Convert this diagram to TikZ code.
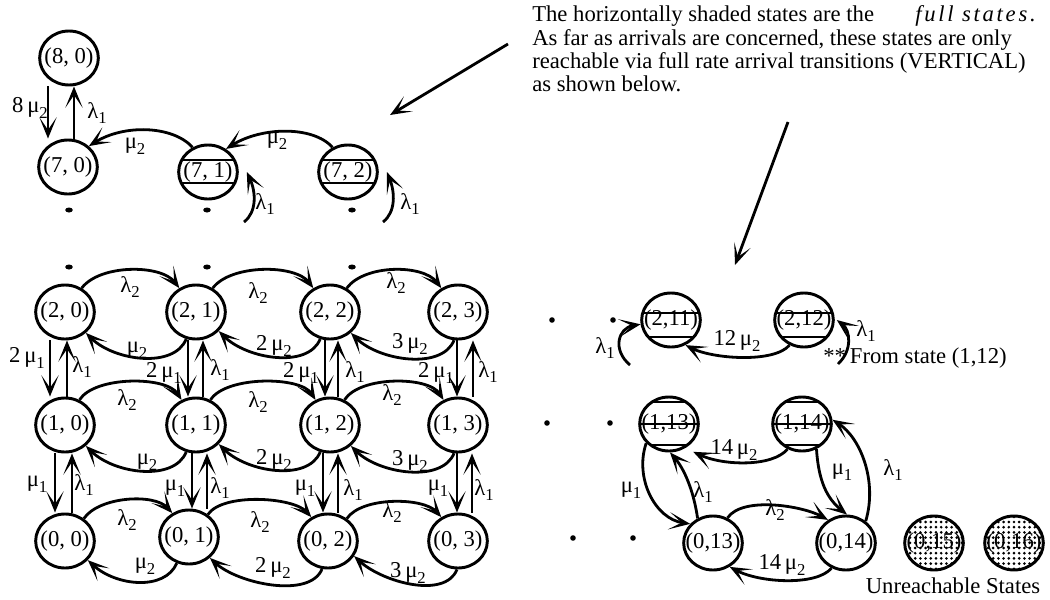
\documentclass[tikz,border=0pt]{standalone}
\usepackage{fontspec}
\setmainfont{Liberation Serif}
\newfontfamily\spacedserif[LetterSpace=12]{Liberation Serif}
\usetikzlibrary{shapes.geometric,arrows.meta,patterns.meta}

% rate symbols with a lowered index
\newcommand\lowsub[2]{#1\raisebox{-0.55ex}{\fontsize{12.5}{12.5}\selectfont #2}}
\newcommand\lamb[1]{\lowsub{λ}{#1}}
\newcommand\muu[1]{\lowsub{μ}{#1}}
% state label that does not widen the ellipse
\newcommand\stlabel[1]{\makebox[0pt]{#1}}
\newcommand\lowlabel[1]{\makebox[0pt]{\raisebox{-2.5pt}{#1}}}

\tikzset{
  state/.style={ellipse, draw, line width=2.2pt, minimum width=44pt,
    minimum height=40.5pt, inner sep=0pt},
  full/.style={path picture={\foreach \d in {#1}
    \draw[line width=2.2pt] ([yshift=\d pt]path picture bounding box.west)
      -- ([yshift=\d pt]path picture bounding box.east);}},
  unreach/.style={state, pattern={Dots[radius=1.1pt,distance=3.9pt]}},
  arr/.style={line width=2.1pt, -{Stealth[length=16pt,width=13pt,inset=9.5pt]}},
  lab/.style={inner sep=0pt},
  txt/.style={inner sep=0pt, anchor=base west},
}

\begin{document}
\begin{tikzpicture}[x=0.75pt, y=-0.75pt, font=\fontsize{17}{20}\selectfont]
\useasboundingbox (0,0) rectangle (1050,600);

% ---------- upper chain ----------
\node[state] (n80) at (69,58) {\stlabel{(8, 0)}};
\node[state] (n70) at (68,167) {\stlabel{(7, 0)}};
\node[state, full={9,-8.25}] (n71) at (208,172) {\stlabel{(7, 1)}};
\node[state, full={9,-8.25}] (n72) at (348,172) {\stlabel{(7, 2)}};

\draw[arr] ([xshift=-15.75pt]n80.south) -- ([xshift=-15.75pt]n80.south |- n70.north);
\draw[arr] ([xshift=4.5pt]n70.north) -- ([xshift=4.5pt]n70.north |- n80.south);
\draw[arr] (n71.122) .. controls +(-20,-22) and +(35,-22) .. (n70.45);
\draw[arr] (n72.122) .. controls +(-20,-22) and +(35,-22) .. (n71.52);
\coordinate (h71) at (244,222);
\coordinate (h72) at (383,222);
\draw[arr] (h71) .. controls (257,212) and (256,192) .. ([xshift=6pt]n71.east);
\draw[arr] (h72) .. controls (396,212) and (395,192) .. ([xshift=6pt]n72.east);

\node[lab] (la1) at (30,108) {8\,\muu{2}};
\node[lab] (la2) at (97,113) {\lamb{1}};
\node[lab] (la3) at (135,146) {\muu{2}};
\node[lab] (la4) at (277,141) {\muu{2}};
\node[lab] (la5) at (265,204) {\lamb{1}};
\node[lab] (la6) at (410,204) {\lamb{1}};

% vertical ellipsis dots
\foreach \x in {69,207,352} {
  \fill (\x,210) ellipse [x radius=3.8, y radius=2.5];
  \fill (\x,267) ellipse [x radius=3.8, y radius=2.5];
}

% ---------- lower grid ----------
\node[state] (n20) at (65,312) {\stlabel{(2, 0)}};
\node[state] (n21) at (196,312) {\stlabel{(2, 1)}};
\node[state] (n22) at (330,312) {\stlabel{(2, 2)}};
\node[state] (n23) at (458,312) {\stlabel{(2, 3)}};
\node[state] (n10) at (65,425) {\stlabel{(1, 0)}};
\node[state] (n11) at (196,425) {\stlabel{(1, 1)}};
\node[state] (n12) at (330,425) {\stlabel{(1, 2)}};
\node[state] (n13) at (458,425) {\stlabel{(1, 3)}};
\node[state] (n00) at (65,541) {\stlabel{(0, 0)}};
\node[state] (n01) at (189,537) {\stlabel{(0, 1)}};
\node[state] (n02) at (328,541) {\stlabel{(0, 2)}};
\node[state] (n03) at (458,541) {\stlabel{(0, 3)}};

% arrivals of class 2 (to the right, above)
\draw[arr] (n20.55) .. controls +(18,-24) and +(-18,-24) .. (n21.125);
\draw[arr] (n21.55) .. controls +(18,-24) and +(-18,-24) .. (n22.125);
\draw[arr] (n22.55) .. controls +(18,-24) and +(-18,-24) .. (n23.125);
\draw[arr] (n10.60) .. controls +(15,-24) and +(-15,-24) .. (n11.120);
\draw[arr] (n11.60) .. controls +(15,-24) and +(-15,-24) .. (n12.120);
\draw[arr] (n12.60) .. controls +(15,-24) and +(-15,-24) .. (n13.120);
\draw[arr] (n00.50) .. controls +(15,-22) and +(-18,-20) .. (n01.125);
\draw[arr] (n01.50) .. controls +(15,-22) and +(-18,-20) .. (n02.125);
\draw[arr] (n02.50) .. controls +(15,-22) and +(-18,-20) .. (n03.125);

% departures of class 2 (to the left, below)
\draw[arr] (n21.250) .. controls +(-12,30) and +(28,28) .. (n20.315);
\draw[arr] (n22.250) .. controls +(-12,30) and +(28,28) .. (n21.320);
\draw[arr] (n23.262) .. controls +(-12,30) and +(28,28) .. (n22.315);
\draw[arr] (n11.250) .. controls +(-12,30) and +(28,28) .. (n10.315);
\draw[arr] (n12.250) .. controls +(-12,30) and +(28,28) .. (n11.320);
\draw[arr] (n13.262) .. controls +(-12,30) and +(28,28) .. (n12.315);
\draw[arr] (n01.245) .. controls +(-12,28) and +(28,26) .. (n00.320);
\draw[arr] (n02.258) .. controls +(-12,30) and +(28,26) .. (n01.315);
\draw[arr] (n03.268) .. controls +(-12,30) and +(28,26) .. (n02.330);

% class 1 transitions between rows
\draw[arr] ([xshift=-11.25pt]n20.south) -- ([xshift=-11.25pt]n20.south |- n10.north);
\draw[arr] ([xshift=1.5pt]n10.north) -- ([xshift=1.5pt]n10.north |- n20.south);
\draw[arr] ([xshift=-6pt]n21.south) -- ([xshift=-6pt]n21.south |- n11.north);
\draw[arr] ([xshift=5.25pt]n11.north) -- ([xshift=5.25pt]n11.north |- n21.south);
\draw[arr] ([xshift=-3.75pt]n22.south) -- ([xshift=-3.75pt]n22.south |- n12.north);
\draw[arr] ([xshift=6pt]n12.north) -- ([xshift=6pt]n12.north |- n22.south);
\draw[arr] ([xshift=-0.75pt]n23.south) -- ([xshift=-0.75pt]n23.south |- n13.north);
\draw[arr] ([xshift=11.25pt]n13.north) -- ([xshift=11.25pt]n13.north |- n23.south);

\draw[arr] ([xshift=-7.5pt]n10.south) -- ([xshift=-7.5pt]n10.south |- n00.north);
\draw[arr] ([xshift=5.25pt]n00.north) -- ([xshift=5.25pt]n00.north |- n10.south);
\draw[arr] ([xshift=-3pt]n11.south) -- ([xshift=-3pt]n11.south |- n01.north);
\draw[arr] ([xshift=13.5pt]n01.north) -- ([xshift=13.5pt]n01.north |- n11.south);
\draw[arr] ([xshift=-5.25pt]n12.south) -- ([xshift=-5.25pt]n12.south |- n02.north);
\draw[arr] ([xshift=7.5pt]n02.north) -- ([xshift=7.5pt]n02.north |- n12.south);
\draw[arr] ([xshift=-0.75pt]n13.south) -- ([xshift=-0.75pt]n13.south |- n03.north);
\draw[arr] ([xshift=10.5pt]n03.north) -- ([xshift=10.5pt]n03.north |- n13.south);

% rate labels
\node[lab] (lb1) at (130,287) {\lamb{2}};
\node[lab] (lb2) at (258,293) {\lamb{2}};
\node[lab] (lb3) at (396,283) {\lamb{2}};
\node[lab] (lb4) at (137,350) {\muu{2}};
\node[lab] (lb5) at (274,346) {2\,\muu{2}};
\node[lab] (lb6) at (410,344) {3\,\muu{2}};
\node[lab] (lb7) at (27,358) {2\,\muu{1}};
\node[lab] (lb8) at (164,373) {2\,\muu{1}};
\node[lab] (lb9) at (301,373) {2\,\muu{1}};
\node[lab] (lb10) at (436,373) {2\,\muu{1}};
\node[lab] (lb11) at (82,367) {\lamb{1}};
\node[lab] (lb12) at (220,370) {\lamb{1}};
\node[lab] (lb13) at (355,372) {\lamb{1}};
\node[lab] (lb14) at (488,372) {\lamb{1}};
\node[lab] (lb15) at (127,400) {\lamb{2}};
\node[lab] (lb16) at (258,402) {\lamb{2}};
\node[lab] (lb17) at (392,395) {\lamb{2}};
\node[lab] (lb18) at (147,462) {\muu{2}};
\node[lab] (lb19) at (274,460) {2\,\muu{2}};
\node[lab] (lb20) at (410,461) {3\,\muu{2}};
\node[lab] (lb21) at (37,484) {\muu{1}};
\node[lab] (lb22) at (175,488) {\muu{1}};
\node[lab] (lb23) at (305,488) {\muu{1}};
\node[lab] (lb24) at (438,488) {\muu{1}};
\node[lab] (lb25) at (84,485) {\lamb{1}};
\node[lab] (lb26) at (220,488) {\lamb{1}};
\node[lab] (lb27) at (353,490) {\lamb{1}};
\node[lab] (lb28) at (484,490) {\lamb{1}};
\node[lab] (lb29) at (127,520) {\lamb{2}};
\node[lab] (lb30) at (260,522) {\lamb{2}};
\node[lab] (lb31) at (392,512) {\lamb{2}};
\node[lab] (lb32) at (145,566) {\muu{2}};
\node[lab] (lb33) at (273,568) {2\,\muu{2}};
\node[lab] (lb34) at (408,573) {3\,\muu{2}};

% horizontal ellipsis dots
\foreach \p in {(552,320),(613,320),(547,423),(610,423),(573,538),(633,538)}
  \fill \p circle [radius=2.8];

% ---------- right part ----------
\node[state, full={5.25,-12.75}] (n211) at (671,320) {\lowlabel{(2,11)}};
\node[state, full={5.25,-12.75}] (n212) at (804,320) {\lowlabel{(2,12)}};
\node[state, full={16.5,0,-15.75}] (n113) at (669,424) {\stlabel{(1,13)}};
\node[state, full={16.5,0,-15.75}] (n114) at (802,424) {\stlabel{(1,14)}};
\node[state] (n013) at (713,543) {\stlabel{(0,13)}};
\node[state] (n014) at (846,543) {\stlabel{(0,14)}};
\node[unreach] (n015) at (934,543) {\stlabel{(0,15)}};
\node[unreach] (n016) at (1014,543) {\stlabel{(0,16)}};

\coordinate (h211) at (630,365);
\coordinate (h212) at (838,364);
\draw[arr] (h211) .. controls (612,350) and (618,328) .. (n211.188);
\draw[arr] (h212) .. controls (853,350) and (850,330) .. ([xshift=1.5pt]n212.east);
\draw[arr] (n212.240) .. controls +(-15,18) and +(28,14) .. (n211.300);

\draw[arr] (n113.220) .. controls +(-12,35) and +(-35,-5) .. (n013.140);
\draw[arr] (n013.122) .. controls +(-4,-28) and +(14,16) .. (n113.272);
\draw[arr] (n114.240) .. controls +(-15,18) and +(30,14) .. ([xshift=4pt,yshift=-4pt]n113.310);
\draw[arr] (n013.60) .. controls +(15,-22) and +(-25,-14) .. (n014.128);
\draw[arr] (n114.300) .. controls +(2,32) and +(-20,-16) .. (n014.88);
\draw[arr] (n014.48) .. controls +(12,-40) and +(28,18) .. (n114.8);
\draw[arr] (n014.240) .. controls +(-15,18) and +(30,16) .. (n013.305);

\node[lab] (lc1) at (605,348) {\lamb{1}};
\node[lab] (lc2) at (737,341) {12\,\muu{2}};
\node[lab] (lc3) at (866,331) {\lamb{1}};
\node[lab] (lc4) at (631,490) {\muu{1}};
\node[lab] (lc5) at (703,492) {\lamb{1}};
\node[lab] (lc6) at (734,450) {14\,\muu{2}};
\node[lab] (lc7) at (775,510) {\lamb{2}};
\node[lab] (lc8) at (842,472) {\muu{1}};
\node[lab] (lc9) at (893,470) {\lamb{1}};
\node[lab] (lc10) at (782,565) {14\,\muu{2}};

\node[txt] (from) at (823,363) {**\hspace{3pt}From state (1,12)};
\node[lab] (unr) at (953,586) {Unreachable States};

% ---------- note ----------
\node[txt] (t1) at (532,21) {The horizontally shaded states are the};
\node[inner sep=0pt, anchor=base east] (t1b) at (1036,21) {\spacedserif\itshape full states.};
\node[txt] (t2) at (532,45) {As far as arrivals are concerned, these states are only};
\node[txt] (t3) at (532,68) {reachable via full rate arrival transitions (VERTICAL)};
\node[txt] (t4) at (532,91) {as shown below.};

\coordinate (p1s) at (508,44);
\coordinate (p1e) at (390,115);
\coordinate (p2s) at (788,122);
\coordinate (p2e) at (735,265);
\draw[arr] (p1s) -- (p1e);
\draw[arr] (p2s) -- (p2e);
\end{tikzpicture}
\end{document}
